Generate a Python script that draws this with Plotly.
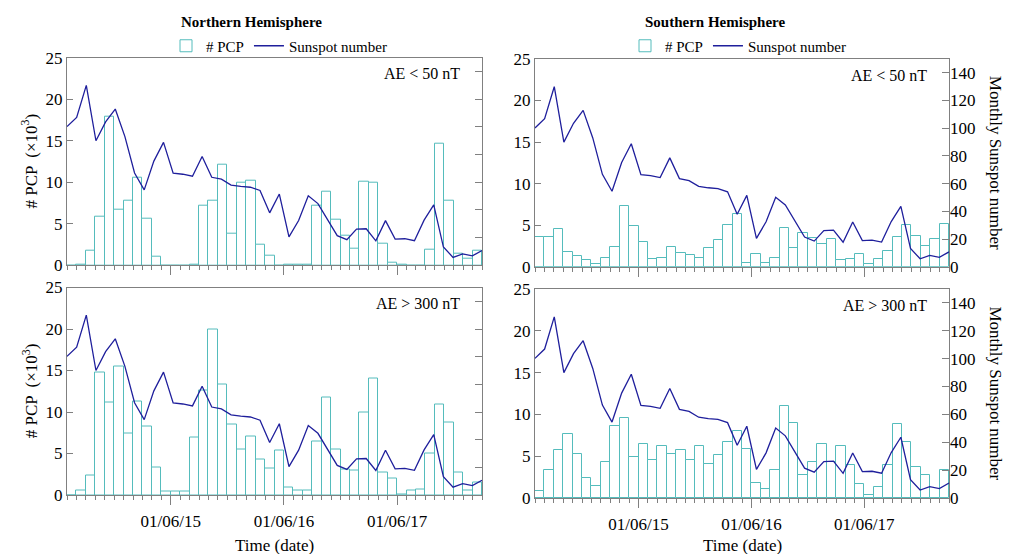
import plotly.graph_objects as go
import pandas as pd

# ---------------- data ----------------
months = pd.date_range("2014-07-01", periods=44, freq="MS").strftime("%b %Y").tolist()

sunspot = [100.2, 106.9, 130.0, 90.0, 103.6, 112.9, 93.0, 66.7, 54.5, 75.3, 88.8, 66.5,
           65.8, 64.4, 78.6, 63.6, 62.2, 58.0, 57.0, 56.4, 54.1, 37.9, 51.5, 20.5,
           32.4, 50.2, 44.6, 33.4, 21.4, 18.5, 26.1, 26.4, 17.7, 32.3, 18.9, 19.2,
           17.8, 32.6, 43.6, 13.2, 5.7, 8.2, 6.8, 10.7]

nh_low = [0, 0.1, 1.8, 5.8, 17.9, 6.7, 7.8, 10.6, 5.65, 1.0, 0, 0, 0, 0.1, 7.2,
          7.8, 12.15, 3.85, 10.0, 10.2, 2.5, 1.1, 0, 0.1, 0.05, 0.1, 7.2, 8.9, 5.5,
          3.6, 2.0, 10.1, 10.0, 2.65, 0.35, 0.05, 0, 0, 1.9, 14.7, 7.8, 1.45, 0.85, 1.7]

nh_high = [0, 0.55, 2.35, 14.8, 11.15, 15.5, 7.45, 11.3, 8.3, 3.3, 0.45, 0.45, 0.45,
           6.95, 12.6, 20.0, 13.35, 8.5, 5.5, 7.07, 4.3, 3.2, 5.4, 0.9, 0.55, 0.55,
           6.5, 11.75, 5.5, 3.1, 2.95, 10.0, 14.0, 2.75, 1.95, 0.1, 0.55, 0.7, 4.95,
           10.9, 8.75, 2.75, 0.5, 1.45]

sh_low = [3.55, 3.55, 4.5, 1.75, 1.25, 0.75, 0.3, 1.0, 2.35, 7.3, 4.85, 2.95, 0.9,
          1.0, 2.35, 1.6, 1.45, 1.1, 2.2, 3.2, 5.0, 6.3, 0.4, 1.5, 0.4, 1.1, 4.6,
          2.3, 4.0, 3.4, 2.7, 3.3, 0.75, 0.9, 1.5, 0.3, 0.9, 1.85, 3.55, 5.0, 3.75,
          2.55, 3.3, 5.1]

sh_high = [0.8, 3.3, 5.8, 7.7, 5.3, 2.4, 1.45, 4.25, 8.6, 9.6, 4.85, 6.45, 4.5, 6.25,
           5.3, 5.7, 4.6, 6.2, 4.05, 5.2, 6.75, 8.0, 5.9, 1.85, 1.1, 3.3, 11.05, 9.0,
           2.8, 4.35, 6.45, 4.35, 6.25, 3.9, 1.7, 0.35, 1.3, 4.0, 8.8, 6.75, 3.75,
           2.8, 0, 3.35]

tick_pos = [11, 23, 35]
tick_labels = ["01/06/15", "01/06/16", "01/06/17"]
left_ticks = [0, 5, 10, 15, 20, 25]
right_ticks = [0, 20, 40, 60, 80, 100, 120, 140]

# ---------------- style ----------------
W, H = 1013, 554
FONT = "Liberation Serif"
TEAL = "#55bcbc"
NAVY = "#1f1f9c"
GRAY = "#808080"

def px_x(p):
    return p / W

def px_y(p):
    return 1 - p / H

panels = [
    dict(bars=nh_low, label="AE < 50 nT", xd=(67, 482), yd=(57.7, 265.3), right=False, bottom=False, legend="legend"),
    dict(bars=sh_low, label="AE < 50 nT", xd=(535, 949), yd=(59, 266.7), right=True, bottom=False, legend="legend2"),
    dict(bars=nh_high, label="AE > 300 nT", xd=(67, 482), yd=(287.5, 495), right=False, bottom=True, legend=None),
    dict(bars=sh_high, label="AE > 300 nT", xd=(535, 949), yd=(289, 498), right=True, bottom=True, legend=None),
]

n = len(months)
fig = go.Figure()
layout = {}
annotations = []

for k, p in enumerate(panels):
    a = 2 * k + 1
    b = 2 * k + 2
    xa = "x" if a == 1 else f"x{a}"
    ya = "y" if a == 1 else f"y{a}"
    xb, yb = f"x{b}", f"y{b}"
    show = p["legend"] is not None
    fig.add_trace(go.Bar(
        x=list(range(n)), y=p["bars"], width=1, offset=0, name="# PCP",
        hovertext=months, hoverinfo="text+y",
        marker=dict(color="white", line=dict(color=TEAL, width=1)),
        xaxis=xa, yaxis=ya, showlegend=show, legend=p["legend"] or "legend",
    ))
    fig.add_trace(go.Scatter(
        x=list(range(n)), y=sunspot, mode="lines", name="Sunspot number",
        hovertext=months, hoverinfo="text+y",
        line=dict(color=NAVY, width=1.3),
        xaxis=xb, yaxis=yb, showlegend=show, legend=p["legend"] or "legend",
    ))
    xdom = [px_x(p["xd"][0]), px_x(p["xd"][1])]
    ydom = [px_y(p["yd"][1]), px_y(p["yd"][0])]
    layout["xaxis" if a == 1 else f"xaxis{a}"] = dict(
        domain=xdom, range=[0, n], anchor=ya, showline=True, linecolor=GRAY, linewidth=1,
        mirror=True, showgrid=False, zeroline=False, automargin=False,
        tickmode="array", tickvals=tick_pos, ticktext=tick_labels,
        ticks="outside", ticklen=9, tickcolor=GRAY, tickwidth=1,
        minor=dict(tickmode="array", tickvals=list(range(n + 1)), ticks="outside",
                   ticklen=4, tickcolor=GRAY, tickwidth=1, showgrid=False),
        showticklabels=p["bottom"], ticklabelstandoff=2,
        tickfont=dict(family=FONT, size=17, color="black"),
    )
    layout["yaxis" if a == 1 else f"yaxis{a}"] = dict(
        domain=ydom, range=[0, 25], anchor=xa, showline=True, linecolor=GRAY, linewidth=1,
        mirror=True, showgrid=False, zeroline=False, automargin=False,
        tickmode="array", tickvals=left_ticks,
        ticks="inside", ticklen=6, tickcolor=GRAY, tickwidth=1,
        tickfont=dict(family=FONT, size=17, color="black"),
    )
    layout[f"xaxis{b}"] = dict(
        overlaying=xa, range=[0, n - 1], anchor=yb, visible=False, automargin=False,
    )
    layout[f"yaxis{b}"] = dict(
        overlaying=ya, side="right", range=[0, 150], anchor=xb,
        showline=False, showgrid=False, zeroline=False, automargin=False,
        tickmode="array", tickvals=right_ticks,
        ticks="inside", ticklen=7, tickcolor=GRAY, tickwidth=1,
        showticklabels=p["right"],
        tickfont=dict(family=FONT, size=17, color="black"),
    )
    # panel label
    annotations.append(dict(
        x=px_x(p["xd"][1] - 20), y=px_y(p["yd"][0] + 16), xref="paper", yref="paper",
        xanchor="right", yanchor="middle", text=p["label"], showarrow=False,
        font=dict(family=FONT, size=16, color="black"),
    ))
    ymid = (p["yd"][0] + p["yd"][1]) / 2
    if not p["right"]:
        annotations.append(dict(
            x=px_x(30), y=px_y(ymid), xref="paper", yref="paper",
            text="# PCP  (\u00d710<sup>3</sup>)", textangle=-90, showarrow=False,
            xanchor="center", yanchor="middle",
            font=dict(family=FONT, size=17, color="black"),
        ))
    else:
        annotations.append(dict(
            x=px_x(995), y=px_y(ymid), xref="paper", yref="paper",
            text="Monthly Sunspot number", textangle=90, showarrow=False,
            xanchor="center", yanchor="middle",
            font=dict(family=FONT, size=17, color="black"),
        ))
    if p["bottom"]:
        annotations.append(dict(
            x=px_x((p["xd"][0] + p["xd"][1]) / 2), y=px_y(545), xref="paper", yref="paper",
            text="Time (date)", showarrow=False, xanchor="center", yanchor="middle",
            font=dict(family=FONT, size=17, color="black"),
        ))

annotations.append(dict(x=px_x(251), y=px_y(22), xref="paper", yref="paper",
                        xanchor="center", yanchor="middle",
                        text="<b>Northern Hemisphere</b>", showarrow=False,
                        font=dict(family=FONT, size=15, color="black")))
annotations.append(dict(x=px_x(715), y=px_y(22), xref="paper", yref="paper",
                        xanchor="center", yanchor="middle",
                        text="<b>Southern Hemisphere</b>", showarrow=False,
                        font=dict(family=FONT, size=15, color="black")))

legend_style = dict(orientation="h", yanchor="middle", xanchor="left",
                    font=dict(family=FONT, size=15, color="black"),
                    bgcolor="rgba(0,0,0,0)", itemclick=False)
layout["legend"] = dict(x=px_x(166), y=px_y(46), **legend_style)
layout["legend2"] = dict(x=px_x(625), y=px_y(46), **legend_style)

fig.update_layout(
    width=W, height=H, margin=dict(l=0, r=0, t=0, b=0, autoexpand=False),
    paper_bgcolor="white", plot_bgcolor="white",
    annotations=annotations, barmode="overlay", bargap=0,
    font=dict(family=FONT, size=16, color="black"),
    **layout,
)

fig.write_html("out.html",
               post_script="document.body.style.margin='0px';document.body.style.overflow='hidden';")
